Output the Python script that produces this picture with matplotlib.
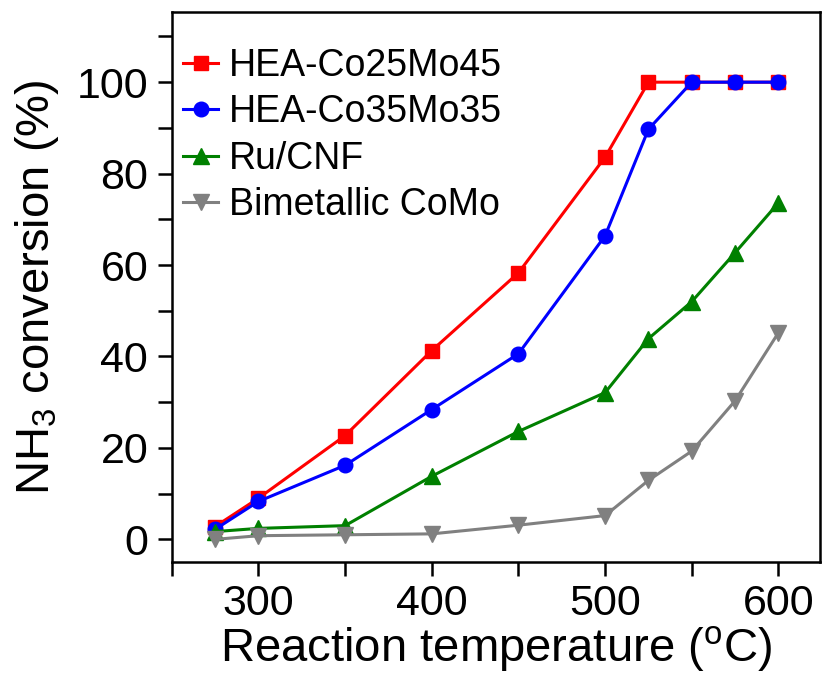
import numpy as np
import matplotlib
matplotlib.use('Agg')
import matplotlib.pyplot as plt
from matplotlib.ticker import MultipleLocator

plt.rcParams['font.family'] = ['Liberation Sans', 'DejaVu Sans']
plt.rcParams['mathtext.fontset'] = 'custom'
plt.rcParams['mathtext.rm'] = 'Liberation Sans'
plt.rcParams['mathtext.it'] = 'Liberation Sans:italic'

# datos
temp = [275, 300, 350, 400, 450, 500, 525, 550, 575, 600]
co25mo45 = [2.8, 9.0, 22.7, 41.3, 58.3, 83.6, 100, 100, 100, 100]
co35mo35 = [2.2, 8.3, 16.2, 28.4, 40.6, 66.4, 89.7, 100, 100, 100]
rucnf = [1.7, 2.4, 3.0, 13.8, 23.6, 32.1, 43.9, 52.0, 62.7, 73.6]
como = [0.0, 0.8, 1.0, 1.2, 3.1, 5.2, 12.9, 19.3, 30.3, 45.2]

fig = plt.figure(figsize=(8.22, 6.79), dpi=100)
ax = fig.add_axes([0.209, 0.172, 0.7886, 0.810])

ax.plot(temp, co25mo45, '-s', color='red', lw=2.2, ms=9.5, label='HEA-Co25Mo45')
ax.plot(temp, co35mo35, '-o', color='blue', lw=2.2, ms=10.5, label='HEA-Co35Mo35')
ax.plot(temp, rucnf, '-^', color='green', lw=2.2, ms=11, label='Ru/CNF')
ax.plot(temp, como, '-v', color='gray', lw=2.2, ms=11, label='Bimetallic CoMo')

ax.set_xlim(250, 624)
ax.set_ylim(-5, 115.3)
ax.xaxis.set_major_locator(MultipleLocator(100))
ax.xaxis.set_minor_locator(MultipleLocator(50))
ax.yaxis.set_major_locator(MultipleLocator(20))
ax.yaxis.set_minor_locator(MultipleLocator(10))
ax.set_yticks(range(0, 101, 20))

for s in ax.spines.values():
    s.set_linewidth(1.8)
ax.tick_params(which='both', direction='out', width=1.8, labelsize=31, pad=6, length=10)
ax.tick_params(axis='y', pad=7)
ax.tick_params(which='both', top=False, right=False)

ax.set_xlabel('Reaction temperature ($\\rm ^{o}$C)', fontsize=34, labelpad=0)
ax.set_ylabel('NH$_3$ conversion (%)', fontsize=34, labelpad=11)

ax.legend(loc='upper left', bbox_to_anchor=(0.017, 0.935), frameon=False, fontsize=27,
          handlelength=0.95, handletextpad=0.27, labelspacing=0.28,
          borderaxespad=0, borderpad=0)

fig.savefig('out.png', dpi=100)
